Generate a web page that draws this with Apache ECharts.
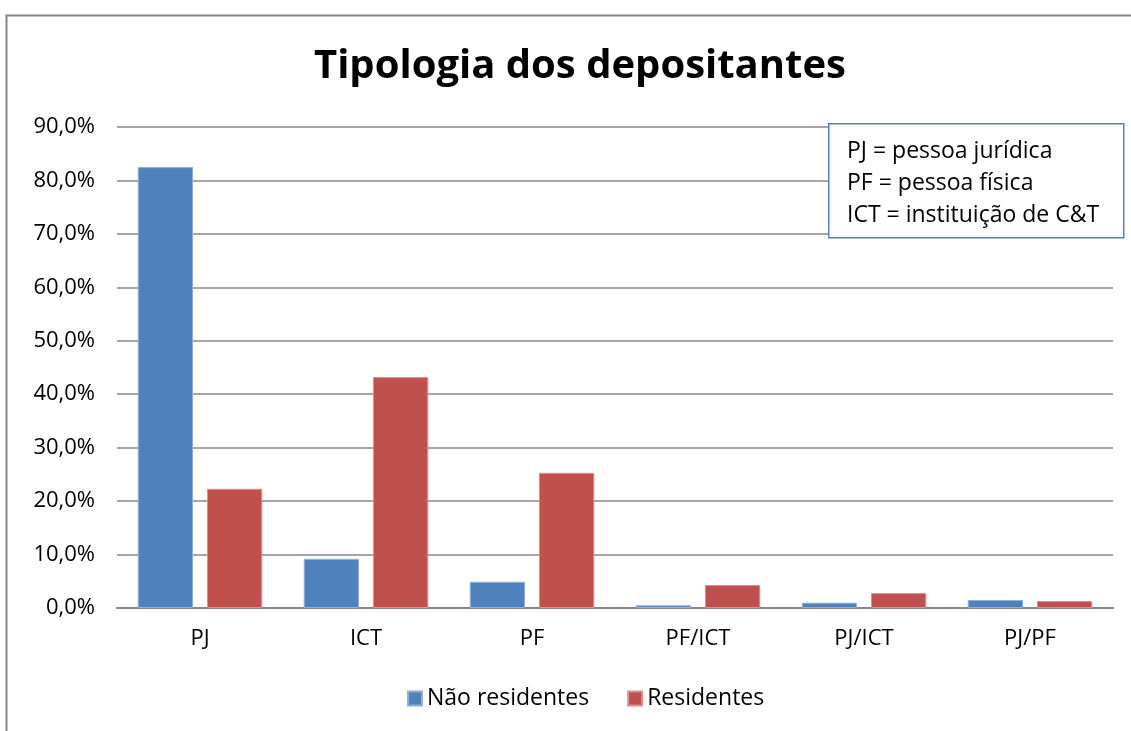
<!DOCTYPE html>
<html>
<head>
<meta charset="utf-8">
<title>Tipologia dos depositantes</title>
<script src="https://cdn.jsdelivr.net/npm/echarts@6/dist/echarts.min.js"></script>
<style>
  html, body { margin: 0; padding: 0; background: #fff; }
  #chart { width: 1131px; height: 731px; }
</style>
</head>
<body>
<div id="chart"></div>
<script>
// categorias e valores (%)
var categories = ['PJ', 'ICT', 'PF', 'PF/ICT', 'PJ/ICT', 'PJ/PF']
var naoResidentes = [82.5, 9.2, 4.9, 0.5, 1.0, 1.5]
var residentes = [22.3, 43.2, 25.3, 4.3, 2.8, 1.3]
var notes = ['PJ = pessoa jurídica', 'PF = pessoa física', 'ICT = instituição de C&T']

var font = '"Open Sans", sans-serif'
var myChart = echarts.init(document.getElementById('chart'))

var option = {
  animation: false,
  title: {
    text: 'Tipologia dos depositantes',
    left: 309,
    top: 42,
    textStyle: {
      fontFamily: font,
      fontWeight: 'bold',
      fontSize: 40,
      color: '#000'
    }
  },
  legend: {
    bottom: 16,
    left: 402,
    itemWidth: 14,
    itemHeight: 14,
    itemGap: 38,
    itemTextGap: 6,
    icon: 'rect',
    textStyle: { fontFamily: font, fontSize: 23, color: '#000' },
    data: ['Não residentes', 'Residentes']
  },
  grid: {
    left: 117,
    right: 18,
    top: 127,
    bottom: 123,
    containLabel: false
  },
  xAxis: {
    type: 'category',
    data: categories,
    axisTick: { show: false },
    axisLine: { lineStyle: { color: '#868686', width: 2 } },
    axisLabel: {
      fontFamily: font,
      fontSize: 22,
      color: '#000',
      margin: 20
    }
  },
  yAxis: {
    type: 'value',
    min: 0,
    max: 90,
    interval: 10,
    axisLine: { show: false },
    axisTick: { show: false },
    splitLine: { lineStyle: { color: '#868686', width: 1.5 } },
    axisLabel: {
      fontFamily: font,
      fontSize: 22,
      color: '#000',
      margin: 22,
      formatter: function (v) {
        return v.toFixed(1).replace('.', ',') + '%'
      }
    }
  },
  series: [
    {
      name: 'Não residentes',
      type: 'bar',
      data: naoResidentes,
      barGap: '25%',
      barCategoryGap: '25%',
      itemStyle: { color: '#4F81BD', borderColor: '#8EB0DA', borderWidth: 1 }
    },
    {
      name: 'Residentes',
      type: 'bar',
      data: residentes,
      itemStyle: { color: '#C0504D', borderColor: '#DC8F8D', borderWidth: 1 }
    }
  ],
  graphic: [
    {
      type: 'rect',
      left: 4,
      top: 13,
      shape: { width: 1140, height: 740 },
      style: { fill: 'none', stroke: '#868686', lineWidth: 2 },
      silent: true
    },
    {
      type: 'rect',
      left: 828,
      top: 123,
      z: 10,
      shape: { width: 295, height: 114 },
      style: { fill: '#fff', stroke: '#4F81BD', lineWidth: 1.5 }
    },
    {
      type: 'text',
      left: 847,
      top: 135,
      z: 11,
      style: {
        text: notes.join('\n'),
        fontFamily: font,
        fontSize: 23,
        lineHeight: 32,
        fill: '#000'
      }
    }
  ]
}

myChart.setOption(option)
window.addEventListener('resize', function () {
  myChart.resize()
})
</script>
</body>
</html>
